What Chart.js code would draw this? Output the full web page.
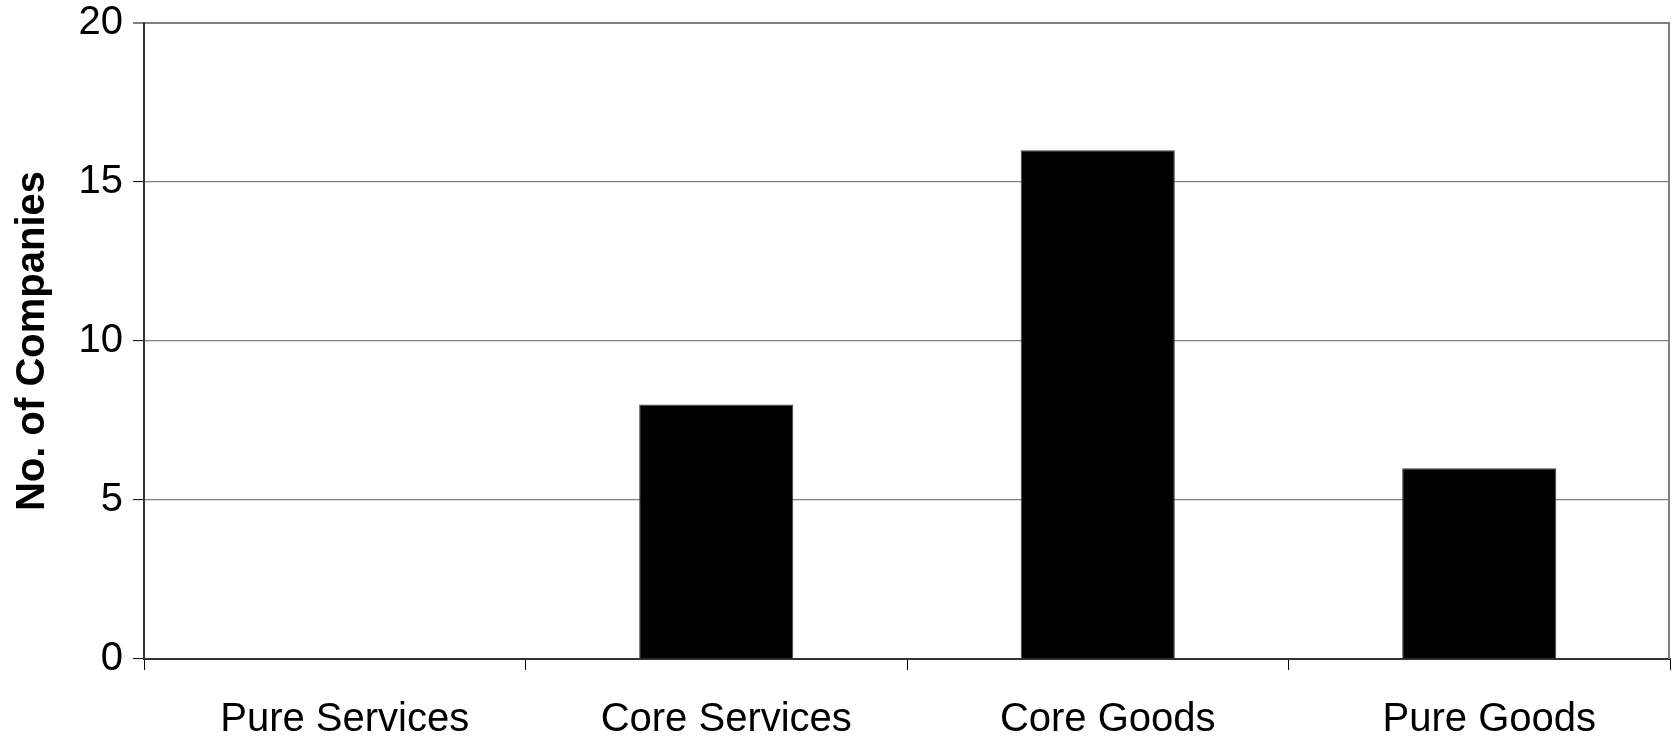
<!DOCTYPE html>
<html>
<head>
<meta charset="utf-8">
<script src="https://cdn.jsdelivr.net/npm/chart.js@4"></script>
<style>
  html, body { margin: 0; padding: 0; background: #fff; }
  #wrap { width: 1672px; height: 738px; }
</style>
</head>
<body>
<div id="wrap"><canvas id="chart" width="1672" height="738"></canvas></div>
<script>
// --- DATA ---
const categories = ['Pure Services', 'Core Services', 'Core Goods', 'Pure Goods'];
const companies = [0, 8, 16, 6];
const yTicks = [0, 5, 10, 15, 20];

const FONT = '"Liberation Sans", Arial, sans-serif';

// right-hand frame line of the plot area
const frameRight = {
    id: 'frameRight',
    afterDraw(chart) {
        const a = chart.chartArea;
        const c = chart.ctx;
        c.save();
        c.strokeStyle = '#808080';
        c.lineWidth = 2;
        c.beginPath();
        c.moveTo(a.right - 1, a.top);
        c.lineTo(a.right - 1, a.bottom);
        c.stroke();
        c.restore();
    }
};

new Chart(document.getElementById('chart'), {
    type: 'bar',
    data: {
        labels: categories,
        datasets: [{
            label: 'No. of Companies',
            data: companies,
            backgroundColor: '#000000',
            borderColor: '#404040',
            borderWidth: 1,
            categoryPercentage: 1.0,
            barPercentage: 0.404
        }]
    },
    options: {
        responsive: false,
        animation: false,
        layout: { padding: { top: 23, right: 2, left: 0, bottom: 0 } },
        plugins: {
            legend: { display: false },
            tooltip: { enabled: false }
        },
        scales: {
            x: {
                offset: true,
                afterFit: s => { s.height = 79; },
                grid: {
                    offset: true,
                    drawOnChartArea: false,
                    drawTicks: true,
                    tickLength: 11,
                    tickColor: '#000',
                    lineWidth: 1
                },
                border: { display: true, color: '#333', width: 2 },
                ticks: {
                    color: '#000',
                    padding: 26,
                    labelOffset: 10,
                    maxRotation: 0,
                    font: { family: FONT, size: 40 }
                }
            },
            y: {
                min: yTicks[0],
                max: yTicks[yTicks.length - 1],
                afterFit: s => {
                    s.width = 144;
                    s.paddingTop = 0;
                    s.paddingBottom = 0;
                },
                afterBuildTicks: s => { s.ticks = yTicks.map(v => ({ value: v })); },
                grid: {
                    color: '#808080',
                    lineWidth: ctx => (ctx.tick && ctx.tick.value === 20 ? 2 : 1.2),
                    drawTicks: true,
                    tickLength: 11,
                    tickColor: '#000',
                    tickWidth: 1
                },
                border: { display: true, color: '#333', width: 2 },
                ticks: {
                    color: '#000',
                    padding: 10,
                    font: { family: FONT, size: 40 }
                },
                title: {
                    display: true,
                    text: 'No. of Companies',
                    color: '#000',
                    padding: { top: 9, bottom: 0 },
                    font: { family: FONT, size: 40, weight: 'bold' }
                }
            }
        }
    },
    plugins: [frameRight]
});
</script>
</body>
</html>
